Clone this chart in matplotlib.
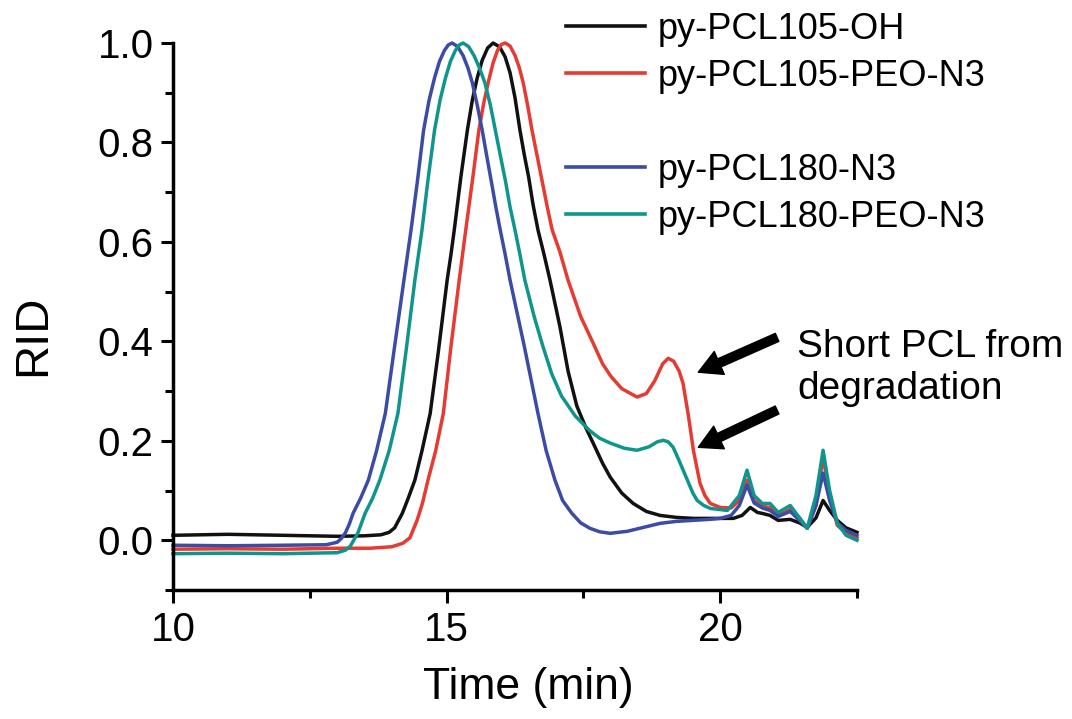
import matplotlib
matplotlib.use("Agg")
import matplotlib.pyplot as plt
from matplotlib.lines import Line2D
from matplotlib.ticker import MultipleLocator

plt.rcParams['font.family'] = ['Liberation Sans', 'DejaVu Sans']

# GPC traces: time (min) and normalised RID signal
t_oh = [10.0, 11.0, 12.0, 13.0, 13.5, 13.8, 13.95, 14.05, 14.19, 14.3, 14.42, 14.55, 14.70, 14.85,
        15.01, 15.08, 15.14, 15.26, 15.38, 15.47, 15.56, 15.65, 15.75, 15.85, 15.97, 16.07, 16.16,
        16.25, 16.34, 16.42, 16.5, 16.58, 16.67, 16.78, 16.89, 17.07,
        17.22, 17.38, 17.55, 17.68, 17.85, 17.99, 18.2, 18.41, 18.65, 18.9, 19.2, 19.51, 19.9,
        20.24, 20.4, 20.55, 20.68, 20.77, 20.91, 21.06, 21.28, 21.45, 21.59, 21.75, 21.88, 22.0,
        22.14, 22.3, 22.5]
rid_oh = [0.010, 0.012, 0.010, 0.008, 0.009, 0.011, 0.016, 0.025, 0.054, 0.085, 0.121, 0.18, 0.255, 0.38,
          0.523, 0.575, 0.624, 0.73, 0.825, 0.885, 0.93, 0.965, 0.99, 1.0, 0.992, 0.972, 0.94,
          0.89, 0.825, 0.775, 0.73, 0.675, 0.624, 0.575, 0.523, 0.43,
          0.34, 0.27, 0.225, 0.195, 0.155, 0.127, 0.095, 0.074, 0.058, 0.050, 0.046, 0.044, 0.044,
          0.044, 0.050, 0.066, 0.056, 0.054, 0.050, 0.040, 0.042, 0.035, 0.026, 0.045, 0.080, 0.060,
          0.040, 0.025, 0.016]

t_105peo = [10.0, 11.0, 12.0, 13.0, 13.6, 14.0, 14.2, 14.33, 14.46, 14.56, 14.66, 14.80, 14.94, 15.08,
            15.23, 15.35, 15.48, 15.59, 15.68, 15.77, 15.85, 15.93, 16.0, 16.07, 16.16, 16.25,
            16.33, 16.40, 16.48, 16.56, 16.66, 16.75, 16.84, 16.93, 17.07, 17.22,
            17.45, 17.68, 17.85, 18.0, 18.2, 18.48, 18.65, 18.8, 18.95, 19.05, 19.15, 19.25, 19.32,
            19.42, 19.51, 19.63, 19.72, 19.82, 20.0, 20.2, 20.35, 20.49, 20.62, 20.77, 20.91, 21.06,
            21.28, 21.45, 21.59, 21.75, 21.88, 22.0, 22.14, 22.3, 22.5]
rid_105peo = [-0.018, -0.017, -0.018, -0.016, -0.016, -0.013, -0.006, 0.005, 0.040, 0.075, 0.121, 0.18, 0.255, 0.39,
              0.523, 0.624, 0.73, 0.825, 0.88, 0.925, 0.96, 0.985, 0.997, 1.0, 0.994, 0.975,
              0.95, 0.92, 0.875, 0.825, 0.77, 0.72, 0.67, 0.624, 0.58, 0.523,
              0.45, 0.396, 0.355, 0.33, 0.305, 0.288, 0.295, 0.32, 0.355, 0.366, 0.36, 0.34, 0.316,
              0.25, 0.181, 0.115, 0.09, 0.074, 0.066, 0.065, 0.08, 0.121, 0.08, 0.068, 0.066, 0.05,
              0.062, 0.045, 0.024, 0.07, 0.168, 0.09, 0.03, 0.015, 0.005]

t_180 = [10.0, 11.0, 12.0, 12.8, 13.0, 13.08, 13.15, 13.22, 13.29, 13.43, 13.57, 13.72, 13.88, 14.05,
         14.22, 14.35, 14.47, 14.58, 14.68, 14.78, 14.87, 14.96, 15.03, 15.10, 15.20, 15.30,
         15.39, 15.47, 15.56, 15.65, 15.73, 15.82, 15.90, 15.98, 16.07, 16.16, 16.42, 16.67, 16.82,
         16.98, 17.12, 17.29, 17.45, 17.62, 17.8, 17.99, 18.3, 18.6, 18.9, 19.2, 19.5, 19.8, 20.0,
         20.2, 20.35, 20.49, 20.62, 20.77, 20.91, 21.06, 21.28, 21.45, 21.59, 21.75, 21.88, 22.0,
         22.14, 22.3, 22.5]
rid_180 = [-0.010, -0.011, -0.010, -0.009, -0.004, 0.004, 0.015, 0.032, 0.054, 0.085, 0.121, 0.18, 0.255, 0.39,
           0.523, 0.624, 0.725, 0.825, 0.885, 0.93, 0.963, 0.985, 0.996, 1.0, 0.993, 0.975,
           0.95, 0.92, 0.875, 0.825, 0.775, 0.72, 0.67, 0.624, 0.575, 0.523, 0.39, 0.255, 0.18,
           0.121, 0.08, 0.054, 0.035, 0.024, 0.017, 0.014, 0.018, 0.026, 0.034, 0.038, 0.040, 0.042, 0.044,
           0.05, 0.07, 0.111, 0.075, 0.065, 0.06, 0.048, 0.058, 0.04, 0.024, 0.07, 0.135, 0.08,
           0.035, 0.02, 0.01]

t_180peo = [10.0, 11.0, 12.0, 13.0, 13.15, 13.24, 13.38, 13.51, 13.65, 13.78, 13.95, 14.11, 14.27, 14.42,
            14.55, 14.66, 14.78, 14.88, 14.98, 15.07, 15.16, 15.23, 15.30, 15.40, 15.50, 15.60,
            15.70, 15.80, 15.89, 15.98, 16.08, 16.16, 16.25, 16.34, 16.43, 16.60, 16.76,
            16.92, 17.1, 17.35, 17.62, 17.8, 18.0, 18.25, 18.48, 18.7, 18.85, 18.96, 19.05, 19.14,
            19.25, 19.40, 19.50, 19.58, 19.70, 19.82, 20.13, 20.35, 20.49, 20.62, 20.77, 20.91, 21.06,
            21.28, 21.45, 21.59, 21.75, 21.88, 22.0, 22.14, 22.3, 22.5]
rid_180peo = [-0.027, -0.026, -0.027, -0.025, -0.02, -0.012, 0.015, 0.054, 0.085, 0.121, 0.18, 0.255, 0.39, 0.523,
              0.624, 0.725, 0.825, 0.885, 0.93, 0.963, 0.985, 0.996, 1.0, 0.993, 0.975, 0.95,
              0.92, 0.875, 0.825, 0.775, 0.72, 0.67, 0.624, 0.575, 0.523, 0.45, 0.39,
              0.335, 0.29, 0.25, 0.22, 0.205, 0.195, 0.185, 0.181, 0.188, 0.198, 0.201, 0.198, 0.187,
              0.16, 0.121, 0.095, 0.08, 0.07, 0.064, 0.06, 0.09, 0.141, 0.09, 0.074, 0.074, 0.056,
              0.07, 0.045, 0.024, 0.09, 0.181, 0.1, 0.034, 0.01, 0.0]

labels = ['py-PCL105-OH', 'py-PCL105-PEO-N3', 'py-PCL180-N3', 'py-PCL180-PEO-N3']
colors = ['#111111', '#e53b32', '#3c4ba3', '#0f958c']

fig = plt.figure(figsize=(10.72, 7.19), dpi=100)
ax = fig.add_axes([173/1072, 129/719, 684/1072, 547/719])

series = [(t_oh, rid_oh), (t_105peo, rid_105peo), (t_180, rid_180), (t_180peo, rid_180peo)]
for (t, r), c in zip(series, colors):
    ax.plot(t, r, color=c, lw=2.5, clip_on=False, solid_joinstyle='round')

ax.set_xlim(10, 22.5)
ax.set_ylim(-0.1, 1.0)
ax.xaxis.set_major_locator(MultipleLocator(5))
ax.xaxis.set_minor_locator(MultipleLocator(2.5))
ax.yaxis.set_minor_locator(MultipleLocator(0.1))
ax.set_yticks([0.0, 0.2, 0.4, 0.6, 0.8, 1.0])
ax.yaxis.set_major_formatter(plt.FuncFormatter(lambda v, p: f"{v:.1f}"))

for s in ['top', 'right']:
    ax.spines[s].set_visible(False)
for s in ['left', 'bottom']:
    ax.spines[s].set_linewidth(2.5)

ax.tick_params(which='major', length=9, width=2.2, direction='out', labelsize=29)
ax.tick_params(which='minor', length=6, width=2.2, direction='out')
ax.tick_params(axis='x', pad=6)
ax.tick_params(axis='y', pad=5)

ax.set_xlabel('Time (min)', fontsize=32)
ax.xaxis.set_label_coords(0.52, -0.14)
ax.set_ylabel('RID', fontsize=34)
ax.yaxis.set_label_coords(-0.172, 0.466)

# legend with a blank row between the two groups
handles = [Line2D([], [], color=colors[0], lw=2.6),
           Line2D([], [], color=colors[1], lw=2.6),
           Line2D([], [], color='none'),
           Line2D([], [], color=colors[2], lw=2.6),
           Line2D([], [], color=colors[3], lw=2.6)]
leg_labels = [labels[0], labels[1], ' ', labels[2], labels[3]]
fig.legend(handles, leg_labels, loc='upper left', bbox_to_anchor=(566/1072, 1 - 12/719),
           frameon=False, fontsize=26, handlelength=2.2, handletextpad=0.33,
           labelspacing=0.33, borderpad=0, borderaxespad=0)

ax.text(21.41, 0.425, 'Short PCL from\ndegradation', fontsize=28, ha='left', va='top',
        linespacing=1.2)
arrow = dict(arrowstyle='simple,head_length=1.1,head_width=1.2,tail_width=0.42',
             color='black', mutation_scale=15, shrinkA=0, shrinkB=0)
ax.annotate('', xy=(19.6, 0.338), xytext=(21.04, 0.408), arrowprops=arrow)
ax.annotate('', xy=(19.6, 0.187), xytext=(21.04, 0.262), arrowprops=arrow)

fig.savefig('out.png', dpi=100)
